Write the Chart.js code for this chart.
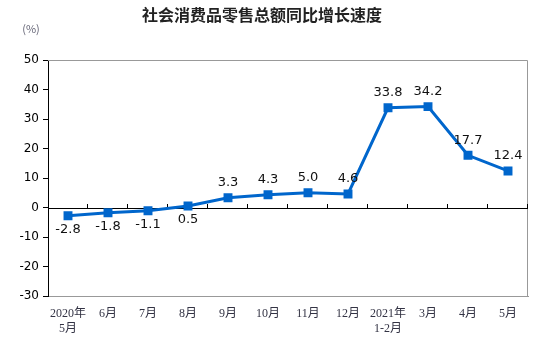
<!DOCTYPE html>
<html>
<head>
<meta charset="utf-8">
<script src="https://cdn.jsdelivr.net/npm/chart.js@4"></script>
<style>
  html, body { margin: 0; padding: 0; background: #fff; }
  #wrap { width: 554px; height: 352px; }
</style>
</head>
<body>
<div id="wrap"><canvas id="chart1"></canvas></div>
<script>
var months = [['2020年', '5月'], '6月', '7月', '8月', '9月', '10月', '11月', '12月', ['2021年', '1-2月'], '3月', '4月', '5月'];
var growth = [-2.8, -1.8, -1.1, 0.5, 3.3, 4.3, 5.0, 4.6, 33.8, 34.2, 17.7, 12.4];
var yTicks = [50, 40, 30, 20, 10, 0, -10, -20, -30];
var title = '社会消费品零售总额同比增长速度';
var unit = '(%)';

var blue = '#0066cc';

// frame, zero line with ticks, titles and point labels
var extras = {
    id: 'extras',
    beforeDatasetsDraw: function (chart) {
        var ctx = chart.ctx, a = chart.chartArea;
        var y0 = chart.scales.y.getPixelForValue(0);
        ctx.save();
        ctx.strokeStyle = '#999';
        ctx.lineWidth = 1;
        ctx.beginPath();
        ctx.moveTo(a.left, a.top + 0.5);
        ctx.lineTo(a.right - 0.5, a.top + 0.5);
        ctx.lineTo(a.right - 0.5, a.bottom);
        ctx.stroke();
        ctx.strokeStyle = '#000';
        ctx.beginPath();
        ctx.moveTo(a.left, Math.round(y0) + 0.5);
        ctx.lineTo(a.right, Math.round(y0) + 0.5);
        var step = (a.right - a.left) / months.length;
        for (var i = 1; i <= months.length; i++) {
            var x = Math.round(a.left + i * step) - 0.5;
            ctx.moveTo(x, Math.round(y0));
            ctx.lineTo(x, Math.round(y0) - 4);
        }
        ctx.stroke();
        ctx.restore();
    },
    afterDatasetsDraw: function (chart) {
        var ctx = chart.ctx;
        var meta = chart.getDatasetMeta(0);
        ctx.save();
        ctx.font = '13px "DejaVu Sans"';
        ctx.fillStyle = '#111';
        ctx.textAlign = 'center';
        ctx.textBaseline = 'middle';
        meta.data.forEach(function (pt, i) {
            var below = i < 4;
            var txt = growth[i].toFixed(1);
            ctx.fillText(txt, pt.x, below ? pt.y + 14 : pt.y - 15);
        });
        ctx.font = 'bold 16px "Noto Sans CJK SC"';
        ctx.fillStyle = '#222';
        ctx.fillText(title, 262, 15);
        ctx.font = '11px "Noto Sans CJK SC"';
        ctx.fillStyle = '#667';
        ctx.fillText(unit, 31, 29);
        ctx.restore();
    }
};

var chart1 = new Chart(document.getElementById('chart1').getContext('2d'), {
    type: 'line',
    data: {
        labels: months,
        datasets: [{
            data: growth,
            borderColor: blue,
            backgroundColor: blue,
            borderWidth: 3,
            pointStyle: 'rect',
            pointRadius: 4.2,
            pointHoverRadius: 4.2,
            tension: 0
        }]
    },
    options: {
        responsive: true,
        maintainAspectRatio: false,
        animation: false,
        layout: { padding: { left: 0, top: 60, right: 26, bottom: 0 } },
        plugins: { legend: { display: false }, tooltip: { enabled: false } },
        scales: {
            x: {
                offset: true,
                grid: { display: false },
                border: { display: true, color: '#999' },
                afterFit: function (s) { s.height = 56; },
                ticks: {
                    color: '#333344',
                    font: { family: '"Liberation Serif", "Noto Sans CJK SC"', size: 12 },
                    maxRotation: 0,
                    autoSkip: false,
                    padding: 3
                }
            },
            y: {
                min: -30,
                max: 50,
                afterFit: function (s) { s.width = 48; },
                afterBuildTicks: function (s) { s.ticks = yTicks.map(function (v) { return { value: v }; }); },
                grid: { drawOnChartArea: false, tickLength: 5, color: '#000' },
                border: { color: '#000', width: 1 },
                ticks: {
                    color: '#000',
                    font: { family: '"DejaVu Sans"', size: 12 },
                    padding: 4
                }
            }
        }
    },
    plugins: [extras]
});
</script>
</body>
</html>
